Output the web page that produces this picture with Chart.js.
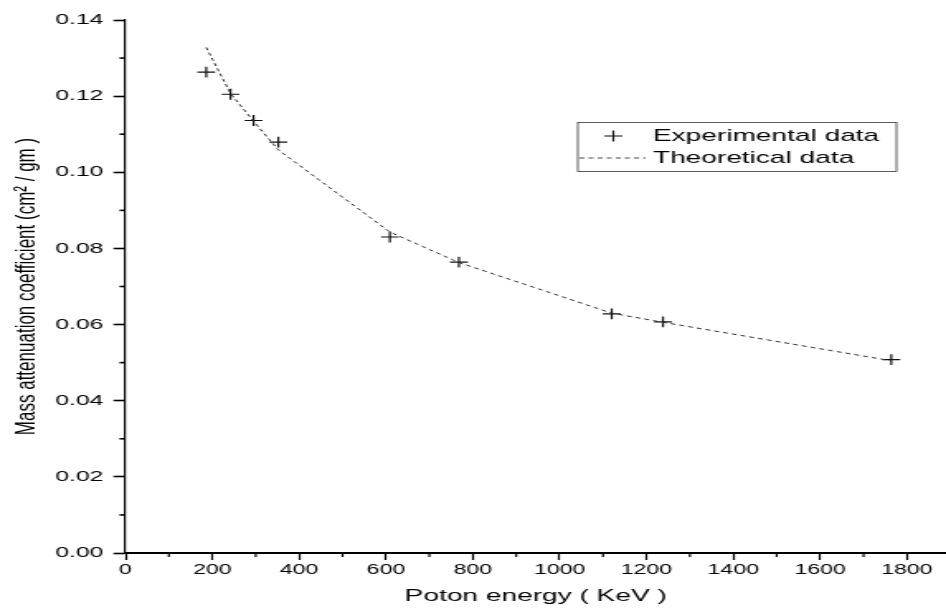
<!DOCTYPE html>
<html>
<head>
<meta charset="utf-8">
<script src="https://cdn.jsdelivr.net/npm/chart.js@4.4.0/dist/chart.umd.min.js"></script>
<style>
  body { margin: 0; background: #fff; }
</style>
</head>
<body>
<!-- the reference is a horizontally stretched picture, so the chart is drawn
     on a narrow canvas and widened by its inline style -->
<canvas id="myChart" width="573" height="612" style="display:block;width:946px;height:612px"></canvas>
<script>
let energies = [186, 242, 295, 352, 609, 768, 1120, 1238, 1764];
let experimental = [0.1263, 0.1205, 0.1136, 0.1079, 0.0830, 0.0764, 0.0628, 0.0607, 0.0508];
let theoretical = [0.1328, 0.1207, 0.1134, 0.1059, 0.0843, 0.0763, 0.0630, 0.0606, 0.0505];
let seriesNames = ['Experimental data', 'Theoretical data'];

let xTicks = [0, 200, 400, 600, 800, 1000, 1200, 1400, 1600, 1800];
let xMinor = [100, 300, 500, 700, 900, 1100, 1300, 1500, 1700];
let yTicks = [0, 0.02, 0.04, 0.06, 0.08, 0.10, 0.12, 0.14];
let yMinor = [0.01, 0.03, 0.05, 0.07, 0.09, 0.11, 0.13];

let xTitle = 'Poton energy ( KeV )';
let yTitle = 'Mass attenuation coefficient (cm\u00B2 / gm )';

const family = '"Liberation Sans", Arial, sans-serif';

// short ticks between the labelled ones
const minorTicks = {
    id: 'minorTicks',
    afterDraw(chart) {
        const {ctx, chartArea} = chart;
        const x = chart.scales.x;
        const y = chart.scales.y;
        ctx.save();
        ctx.strokeStyle = '#000';
        ctx.lineWidth = 1.2;
        xMinor.forEach(v => {
            const px = x.getPixelForValue(v);
            ctx.beginPath();
            ctx.moveTo(px, chartArea.bottom);
            ctx.lineTo(px, chartArea.bottom + 4);
            ctx.stroke();
        });
        ctx.lineWidth = 1.6;
        yMinor.forEach(v => {
            const py = y.getPixelForValue(v);
            ctx.beginPath();
            ctx.moveTo(chartArea.left, py);
            ctx.lineTo(chartArea.left - 3.6, py);
            ctx.stroke();
        });
        ctx.restore();
    }
};

// boxed legend inside the plot, like the original
const boxLegend = {
    id: 'boxLegend',
    afterDraw(chart) {
        const ctx = chart.ctx;
        ctx.save();
        ctx.strokeStyle = '#333';
        ctx.lineWidth = 0.8;
        ctx.strokeRect(350, 122.5, 193, 49);

        // cross
        ctx.strokeStyle = '#111';
        ctx.lineWidth = 1.2;
        ctx.beginPath();
        ctx.moveTo(366, 136); ctx.lineTo(377, 136);
        ctx.moveTo(371.5, 130.5); ctx.lineTo(371.5, 141.5);
        ctx.stroke();

        // dashed line
        ctx.strokeStyle = '#444';
        ctx.lineWidth = 1;
        ctx.setLineDash([3, 2.5]);
        ctx.beginPath();
        ctx.moveTo(351, 158); ctx.lineTo(391, 158);
        ctx.stroke();
        ctx.setLineDash([]);

        ctx.fillStyle = '#000';
        ctx.font = '17px ' + family;
        ctx.textBaseline = 'middle';
        ctx.fillText(seriesNames[0], 395.5, 136);
        ctx.fillText(seriesNames[1], 395.5, 158);
        ctx.restore();
    }
};

let ctx = document.getElementById('myChart').getContext('2d');

let myChart = new Chart(ctx, {
    type: 'scatter',
    data: {
        datasets: [{
            label: seriesNames[1],
            data: energies.map((e, i) => ({x: e, y: theoretical[i]})),
            showLine: true,
            borderColor: '#333',
            borderWidth: 1,
            borderDash: [3, 2.5],
            pointRadius: 0,
            tension: 0,
            fill: false
        }, {
            label: seriesNames[0],
            data: energies.map((e, i) => ({x: e, y: experimental[i]})),
            showLine: false,
            pointStyle: 'cross',
            pointRadius: 5.4,
            pointBorderWidth: 1.2,
            pointBorderColor: '#111',
            pointBackgroundColor: '#111'
        }]
    },
    options: {
        responsive: false,
        animation: false,
        devicePixelRatio: 1,
        layout: {
            autoPadding: false,
            padding: {top: 20, left: 0, right: 0, bottom: 0}
        },
        plugins: {
            legend: {display: false},
            tooltip: {enabled: false}
        },
        scales: {
            x: {
                type: 'linear',
                min: 0,
                max: 1890,
                afterBuildTicks: s => { s.ticks = xTicks.map(v => ({value: v})); },
                afterFit: s => {
                    s.height = 59;
                    // axis runs to the right edge of the picture
                    s.paddingLeft = 0;
                    s.paddingRight = 0;
                },
                border: {color: '#000', width: 2},
                grid: {drawOnChartArea: false, tickLength: 7, tickWidth: 1.2, tickColor: '#000'},
                ticks: {
                    font: {family: family, size: 14},
                    color: '#000',
                    padding: 2,
                    maxRotation: 0,
                    callback: v => String(v)
                },
                title: {
                    display: true,
                    text: xTitle,
                    font: {family: family, size: 17},
                    color: '#000',
                    padding: {top: 0, bottom: 5}
                }
            },
            y: {
                type: 'linear',
                min: 0,
                max: 0.14,
                afterBuildTicks: s => { s.ticks = yTicks.map(v => ({value: v})); },
                afterFit: s => { s.width = 76; },
                border: {color: '#000', width: 1.2},
                grid: {drawOnChartArea: false, tickLength: 7.3, tickWidth: 1.6, tickColor: '#000'},
                ticks: {
                    font: {family: family, size: 15},
                    color: '#000',
                    padding: 6,
                    callback: v => v.toFixed(2)
                },
                title: {
                    display: true,
                    text: yTitle,
                    font: {family: family, size: 17},
                    color: '#000',
                    padding: {top: 6, bottom: 0}
                }
            }
        }
    },
    plugins: [minorTicks, boxLegend]
});
</script>
</body>
</html>
